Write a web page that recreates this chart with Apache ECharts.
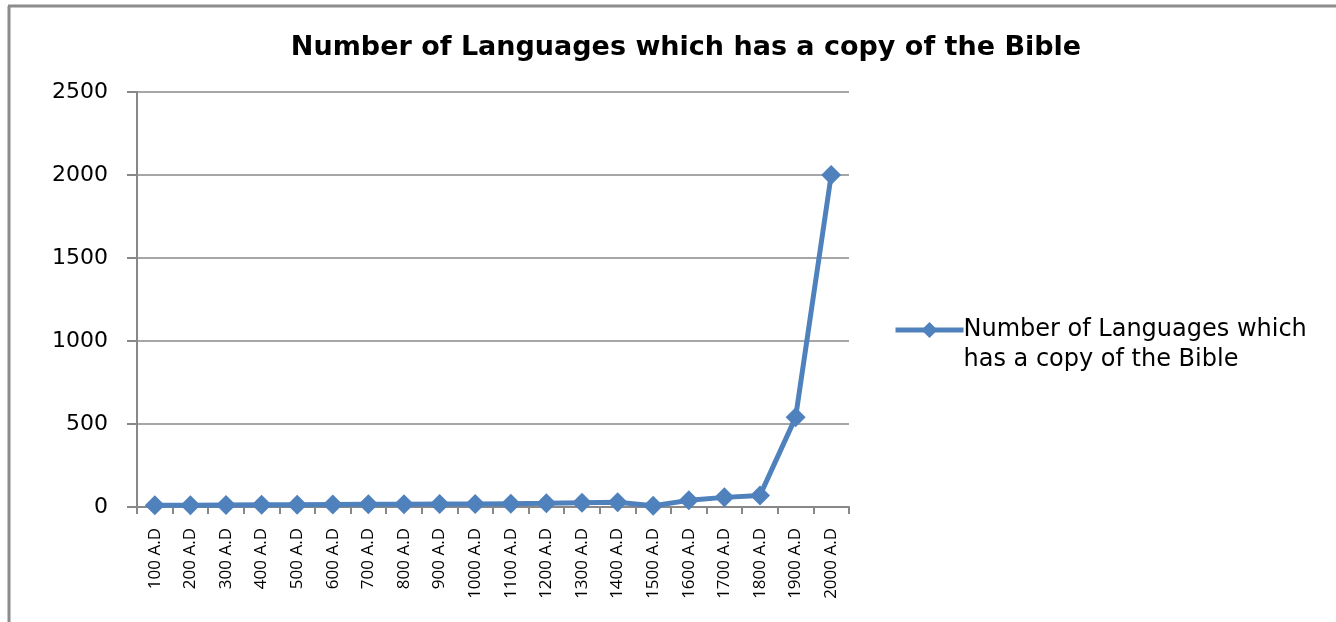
<!DOCTYPE html>
<html>
<head>
<meta charset="utf-8">
<script src="https://cdn.jsdelivr.net/npm/echarts@6/dist/echarts.min.js"></script>
<style>
  html, body { margin: 0; padding: 0; background: #fff; }
  #chart { width: 1336px; height: 622px; }
</style>
</head>
<body>
<div id="chart"></div>
<script>
var years = ['100 A.D', '200 A.D', '300 A.D', '400 A.D', '500 A.D', '600 A.D', '700 A.D',
  '800 A.D', '900 A.D', '1000 A.D', '1100 A.D', '1200 A.D', '1300 A.D', '1400 A.D',
  '1500 A.D', '1600 A.D', '1700 A.D', '1800 A.D', '1900 A.D', '2000 A.D']
var languages = [10, 10, 12, 13, 14, 15, 16, 17, 18, 18, 20, 22, 25, 28, 8, 40, 58, 70, 540, 2000]
var yTicks = [0, 500, 1000, 1500, 2000, 2500]
var seriesName = 'Number of Languages which has a copy of the Bible'

var chart = echarts.init(document.getElementById('chart'))
chart.setOption({
  animation: false,
  graphic: [
    { type: 'line', shape: { x1: 8, y1: 6, x2: 1336, y2: 6 }, style: { stroke: '#8c8c8c', lineWidth: 3 } },
    { type: 'line', shape: { x1: 9, y1: 6, x2: 9, y2: 622 }, style: { stroke: '#8c8c8c', lineWidth: 3 } }
  ],
  title: {
    text: 'Number of Languages which has a copy of the Bible',
    left: 681,
    textAlign: 'center',
    top: 29,
    textStyle: { fontFamily: 'DejaVu Sans', fontWeight: 'bold', fontSize: 27, color: '#000' }
  },
  legend: {
    data: [seriesName],
    orient: 'vertical',
    left: 888,
    top: 280,
    itemWidth: 68,
    itemHeight: 20,
    itemGap: 0,
    lineStyle: { width: 5 },
    formatter: function () {
      // blank first line keeps the icon level with the first text line
      return ' \nNumber of Languages which\nhas a copy of the Bible'
    },
    textStyle: { fontFamily: 'DejaVu Sans', fontSize: 24, color: '#000', lineHeight: 30, padding: [0, 0, 0, -5] }
  },
  grid: { left: 137, top: 92, right: 487, bottom: 115, containLabel: false },
  xAxis: {
    type: 'category',
    data: years,
    boundaryGap: true,
    axisLine: { lineStyle: { color: '#888', width: 2 } },
    axisTick: { show: true, alignWithLabel: false, length: 7, lineStyle: { color: '#888', width: 2 } },
    axisLabel: {
      interval: 0,
      rotate: 90,
      margin: 21,
      fontFamily: 'Open Sans',
      fontSize: 17,
      color: '#000'
    }
  },
  yAxis: {
    type: 'value',
    min: yTicks[0],
    max: yTicks[yTicks.length - 1],
    interval: 500,
    axisLine: { show: true, lineStyle: { color: '#888', width: 2 } },
    axisTick: { show: true, length: 10, lineStyle: { color: '#888', width: 2 } },
    axisLabel: {
      fontFamily: 'DejaVu Sans', fontSize: 22, color: '#000', margin: 29,
      formatter: function (v) { return String(v) }
    },
    splitLine: { show: true, lineStyle: { color: '#888', width: 1.5 } }
  },
  series: [{
    name: seriesName,
    type: 'line',
    data: languages,
    symbol: 'diamond',
    symbolSize: 20,
    itemStyle: { color: '#4f81bd' },
    lineStyle: { color: '#4f81bd', width: 5 }
  }]
})
</script>
</body>
</html>
